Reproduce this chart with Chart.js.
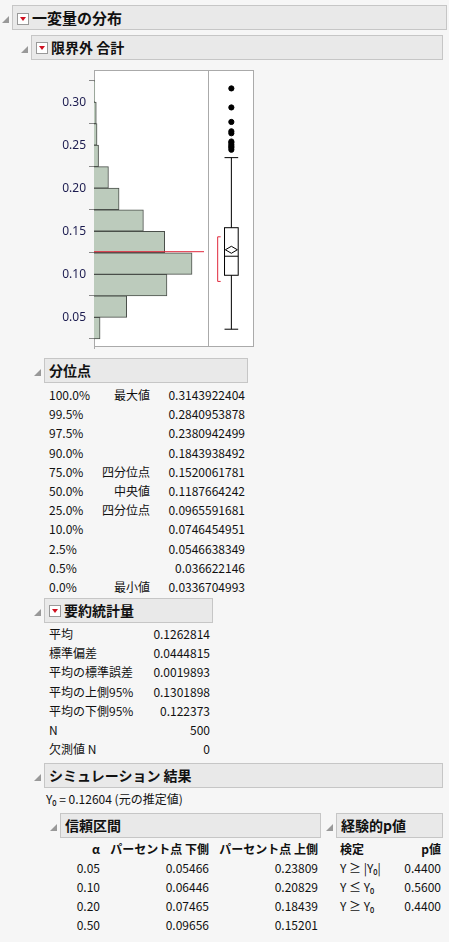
<!DOCTYPE html>
<html><head><meta charset="utf-8">
<script src="https://cdn.jsdelivr.net/npm/chart.js@4"></script>
<style>
body{margin:0;width:449px;height:942px;background:#f6f6f6;font-family:"Noto Sans CJK JP","Noto Sans",sans-serif;font-size:12px;color:#111;position:relative;overflow:hidden}
.t{position:absolute;line-height:16px;white-space:nowrap}
.r{text-align:right}
.hd{position:absolute;background:#e9e9e9;border:1px solid #c6c6c6;font-weight:bold;font-size:14px;line-height:22px;box-sizing:border-box;padding-left:4px}
.tri{position:absolute;width:0;height:0;border-left:7px solid transparent;border-bottom:7px solid #999}
.btn{display:inline-block;width:10px;height:10px;border:1px solid #999;background:#fff;vertical-align:-1px;margin-right:3px;position:relative}
.btn:after{content:"";position:absolute;left:2px;top:3px;border-left:3px solid transparent;border-right:3px solid transparent;border-top:4px solid #d01020}
#plot{position:absolute;left:94px;top:70px;width:160px;height:277px;background:#fff;border:1px solid #aaa;box-sizing:border-box}
</style></head><body>
<div id="page"></div>
<div id="plot"></div>
<div style="position:absolute;left:40px;top:61.7px;width:168px;height:296.5px"><canvas id="hist"></canvas></div>
<div style="position:absolute;left:208px;top:66px;width:46px;height:285px"><canvas id="box"></canvas></div>
<script>
// histogram bins (width 0.025)
const binMids = [0.0375,0.0625,0.0875,0.1125,0.1375,0.1625,0.1875,0.2125,0.2375,0.2625,0.2875,0.3125];
const binCounts = [8,43,96,129,93,65,33,19,6,4,3,1];
const yTicks = [0.05,0.10,0.15,0.20,0.25,0.30];
const boxStats = {min:0.0336705,q1:0.0965592,med:0.1187664,q3:0.1520062,whiskHi:0.2337,mean:0.1262814,shortLo:0.0894,shortHi:0.1414};
const outliers = [0.3144,0.2922,0.2753,0.2644,0.2621,0.2525,0.2510,0.2487,0.2468,0.2452,0.2429];

const quantPct = ["100.0%","99.5%","97.5%","90.0%","75.0%","50.0%","25.0%","10.0%","2.5%","0.5%","0.0%"];
const quantLab = ["最大値","","","","四分位点","中央値","四分位点","","","","最小値"];
const quantVal = ["0.3143922404","0.2840953878","0.2380942499","0.1843938492","0.1520061781","0.1187664242","0.0965591681","0.0746454951","0.0546638349","0.036622146","0.0336704993"];
const sumLab = ["平均","標準偏差","平均の標準誤差","平均の上側95%","平均の下側95%","N","欠測値 N"];
const sumVal = ["0.1262814","0.0444815","0.0019893","0.1301898","0.122373","500","0"];
const ciAlpha = ["0.05","0.10","0.20","0.50"];
const ciLo = ["0.05466","0.06446","0.07465","0.09656"];
const ciHi = ["0.23809","0.20829","0.18439","0.15201"];
const pTest = ["Y ≥ |Y₀|","Y ≤ Y₀","Y ≥ Y₀"];
const pVal = ["0.4400","0.5600","0.4400"];

const YMIN = 0.0141, YMAX = 0.3347;
const page = document.getElementById('page');
function txt(s, x, y, o) {
  o = o || {};
  const d = document.createElement('div');
  d.className = 't' + (o.right ? ' r' : '');
  d.textContent = s;
  d.style.top = (y - 8) + 'px';
  if (o.right) { d.style.right = (449 - x) + 'px'; } else d.style.left = x + 'px';
  if (o.bold) d.style.fontWeight = 'bold';
  page.appendChild(d);
}
function hdr(s, x, y, w, h, btn, fs) {
  const t = document.createElement('div'); t.className = 'tri';
  t.style.left = (x - 10) + 'px'; t.style.top = (y + h/2 - 2) + 'px'; page.appendChild(t);
  const d = document.createElement('div'); d.className = 'hd';
  d.style.left = x + 'px'; d.style.top = y + 'px'; d.style.width = w + 'px'; d.style.height = h + 'px';
  d.style.lineHeight = (h - 2) + 'px';
  if (fs) d.style.fontSize = fs + 'px';
  d.innerHTML = (btn ? '<span class="btn"></span>' : '') + s;
  page.appendChild(d);
}
hdr('一変量の分布', 12, 5, 435, 25, true, 15);
hdr('限界外 合計', 31, 35, 412, 25, true, 14);
hdr('分位点', 44, 358, 204, 25, false);
quantPct.forEach((p, i) => {
  const y = 395 + i * 19.2;
  txt(p, 49, y); if (quantLab[i]) txt(quantLab[i], 150, y, {right:true});
  txt(quantVal[i], 245, y, {right:true});
});
hdr('要約統計量', 44, 598, 169, 25, true);
sumLab.forEach((l, i) => { const y = 634 + i * 19.2; txt(l, 49, y); txt(sumVal[i], 210, y, {right:true}); });
hdr('シミュレーション 結果', 44, 763, 399, 25, false);
txt('Y₀ = 0.12604 (元の推定値)', 46, 799);
hdr('信頼区間', 60, 813, 261, 25, false);
txt('α', 100, 849, {right:true, bold:true});
txt('パーセント点 下側', 209, 849, {right:true, bold:true});
txt('パーセント点 上側', 318, 849, {right:true, bold:true});
ciAlpha.forEach((a, i) => { const y = 868 + i * 19; txt(a, 100, y, {right:true}); txt(ciLo[i], 209, y, {right:true}); txt(ciHi[i], 318, y, {right:true}); });
hdr('経験的p値', 336, 813, 107, 25, false);
txt('検定', 340, 849, {bold:true}); txt('p値', 441, 849, {right:true, bold:true});
pTest.forEach((t, i) => { const y = 868 + i * 19; txt(t, 340, y); txt(pVal[i], 441, y, {right:true}); });

// histogram
const meanLine = {
  id: 'meanLine',
  afterDatasetsDraw(c) {
    const y = c.scales.y.getPixelForValue(boxStats.mean), x0 = c.scales.x.getPixelForValue(0);
    const ctx = c.ctx; ctx.save(); ctx.strokeStyle = '#e0283c'; ctx.lineWidth = 1;
    ctx.beginPath(); ctx.moveTo(x0, y); ctx.lineTo(x0 + 110, y); ctx.stroke(); ctx.restore();
  }
};
new Chart(document.getElementById('hist'), {
  type: 'bar',
  data: { datasets: [{ data: binMids.map((m, i) => ({x: binCounts[i], y: m})), backgroundColor: '#bccbbc', borderColor: '#4a4f4a', borderWidth: 1, barPercentage: 1, categoryPercentage: 1 }] },
  options: {
    indexAxis: 'y', responsive: true, maintainAspectRatio: false, animation: false,
    layout: { padding: {top: 4, bottom: 4, right: 0} },
    plugins: { legend: {display: false}, tooltip: {enabled: false} },
    scales: {
      x: { type: 'linear', min: 0, max: 150, display: false },
      y: { type: 'linear', offset: false, min: YMIN, max: YMAX, afterBuildTicks: s => { s.ticks = yTicks.map(v => ({value: v})); },
        grid: { drawOnChartArea: false, color: '#888', tickLength: 5 }, border: { color: '#aaa' },
        ticks: { color: '#1c1c50', font: {family: 'Noto Sans', size: 12}, callback: v => v.toFixed(2) },
        afterFit: s => { s.width = 54; } }
    }
  },
  plugins: [meanLine]
});

// box plot
const boxDraw = {
  id: 'boxDraw',
  afterDatasetsDraw(c) {
    const Y = v => c.scales.y.getPixelForValue(v), X = v => c.scales.x.getPixelForValue(v);
    const ctx = c.ctx; ctx.save(); ctx.strokeStyle = '#000'; ctx.lineWidth = 1;
    const xl = X(0.32), xr = X(0.70), xc = X(0.51);
    ctx.strokeRect(xl, Y(boxStats.q3), xr - xl, Y(boxStats.q1) - Y(boxStats.q3));
    ctx.beginPath();
    ctx.moveTo(xl, Y(boxStats.med)); ctx.lineTo(xr, Y(boxStats.med));
    ctx.moveTo(xc, Y(boxStats.q3)); ctx.lineTo(xc, Y(boxStats.whiskHi));
    ctx.moveTo(xc, Y(boxStats.q1)); ctx.lineTo(xc, Y(boxStats.min));
    ctx.moveTo(xl, Y(boxStats.whiskHi)); ctx.lineTo(xr, Y(boxStats.whiskHi));
    ctx.moveTo(xl, Y(boxStats.min)); ctx.lineTo(xr, Y(boxStats.min));
    const ym = Y(boxStats.mean);
    ctx.moveTo(xc - 6, ym); ctx.lineTo(xc, ym - 3.5); ctx.lineTo(xc + 6, ym); ctx.lineTo(xc, ym + 3.5); ctx.closePath();
    ctx.stroke();
    ctx.strokeStyle = '#e0283c'; ctx.beginPath();
    const bx = X(0.13);
    ctx.moveTo(bx + 3, Y(boxStats.shortHi)); ctx.lineTo(bx, Y(boxStats.shortHi)); ctx.lineTo(bx, Y(boxStats.shortLo)); ctx.lineTo(bx + 3, Y(boxStats.shortLo));
    ctx.stroke(); ctx.restore();
  }
};
new Chart(document.getElementById('box'), {
  type: 'scatter',
  data: { datasets: [{ data: outliers.map(v => ({x: 0.51, y: v})), pointRadius: 2.6, backgroundColor: '#000', borderColor: '#000' }] },
  options: {
    responsive: true, maintainAspectRatio: false, animation: false,
    layout: { padding: {top: 4, bottom: 4} },
    plugins: { legend: {display: false}, tooltip: {enabled: false} },
    scales: { x: {min: 0, max: 1, display: false}, y: {min: YMIN, max: YMAX, display: false} }
  },
  plugins: [boxDraw]
});
// separator between histogram and box panel
const sep = document.createElement('div');
sep.style.cssText = 'position:absolute;left:208px;top:70px;width:1px;height:277px;background:#aaa';
document.body.appendChild(sep);
</script>
</body></html>
